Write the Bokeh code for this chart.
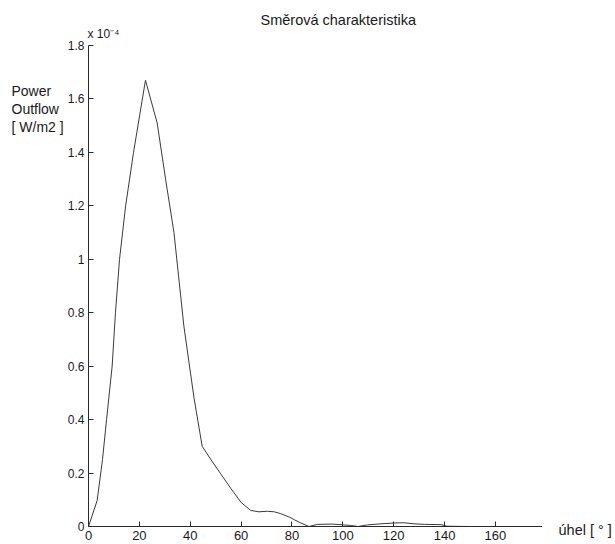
from bokeh.plotting import figure
from bokeh.models import Range1d, FixedTicker, Title
from bokeh.layouts import row
from bokeh.core.properties import value
from bokeh.embed import file_html
from bokeh.resources import INLINE

# angle [deg] and power outflow [x 1e-4 W/m2]
angle = [0, 3.4, 5.5, 7.1, 9.3, 10.6, 12.2, 14.6, 17.7, 22.4, 27.0, 30.3, 33.6,
         37.5, 41.5, 44.7, 48.5, 52, 56, 60, 63.8, 67, 70.3, 73, 75.6, 79, 81,
         83.5, 86.7, 90, 96, 103, 106, 109.7, 115, 120, 124, 128, 132, 138.6,
         141, 150, 160, 167]
power = [0, 0.097, 0.25, 0.40, 0.60, 0.80, 1.00, 1.20, 1.40, 1.67, 1.51, 1.30, 1.10,
         0.75, 0.48, 0.30, 0.245, 0.197, 0.142, 0.09, 0.06, 0.055, 0.057, 0.055, 0.048,
         0.035, 0.025, 0.013, 0.0, 0.008, 0.009, 0.004, 0.0, 0.006, 0.010, 0.013, 0.014,
         0.010, 0.008, 0.007, 0.001, 0.0, 0.0, 0.0]
x_ticks = [0, 20, 40, 60, 80, 100, 120, 140, 160]
y_ticks = [0, 0.2, 0.4, 0.6, 0.8, 1.0, 1.2, 1.4, 1.6, 1.8]
y_tick_labels = ["0", "0.2", "0.4", "0.6", "0.8", "1", "1.2", "1.4", "1.6", "1.8"]
y_label_lines = ["Power", "Outflow", "[ W/m2 ]"]
title_text = "Směrová charakteristika"
scale_text = "x 10⁻⁴"
x_label = "úhel [ ° ]"

FONT = "Liberation Sans"
COL = "#2a2a2a"
TXT = "#1a1a1a"
H = 544
LEFT_W = 64
RIGHT_W = 73
MAIN_W = 615 - LEFT_W - RIGHT_W
FRAME_TOP = 45
FRAME_BOTTOM = 526


def blank(width):
    # full-canvas frame, y in canvas pixels from the top
    f = figure(width=width, height=H, output_backend="svg", toolbar_location=None,
               x_range=Range1d(0, width), y_range=Range1d(H, 0),
               x_axis_location=None, y_axis_location=None, frame_align=False,
               min_border=0, min_border_left=0, min_border_right=0,
               min_border_top=0, min_border_bottom=0)
    f.outline_line_color = None
    f.grid.visible = False
    return f


# left strip: horizontal y-axis label
left = blank(LEFT_W)
left.text(x=[11, 11, 11], y=[90, 108, 126], text=y_label_lines,
          text_font=value(FONT), text_font_size=value("14px"),
          text_color=TXT, text_baseline="middle", text_align="left")

# right strip: x-axis label
right = blank(RIGHT_W)
right.text(x=[16], y=[529], text=[x_label],
           text_font=value(FONT), text_font_size=value("14.5px"),
           text_color=TXT, text_baseline="middle", text_align="left")

# main plot
p = figure(width=MAIN_W, height=H, output_backend="svg", toolbar_location=None,
           x_range=Range1d(0, 178.5), y_range=Range1d(0, 1.8),
           min_border_left=88 - LEFT_W, min_border_right=0,
           min_border_top=FRAME_TOP, min_border_bottom=H - FRAME_BOTTOM)
p.outline_line_color = None
p.grid.visible = False

p.line(angle, power, line_color="#3a3a3a", line_width=1)

for ax in (p.xaxis[0], p.yaxis[0]):
    ax.axis_line_color = COL
    ax.major_tick_line_color = COL
    ax.minor_tick_line_color = None
    ax.major_tick_in = 5
    ax.major_tick_out = 0
    ax.major_label_text_font = FONT
    ax.major_label_text_color = TXT
    ax.major_label_standoff = 4
p.xaxis[0].major_label_text_font_size = "13px"
p.yaxis[0].major_label_text_font_size = "12px"

p.xaxis[0].ticker = FixedTicker(ticks=x_ticks)
p.yaxis[0].ticker = FixedTicker(ticks=y_ticks)
p.yaxis[0].major_label_overrides = {t: l for t, l in zip(y_ticks, y_tick_labels)}

# titles above: nearest first
p.add_layout(Title(text=scale_text, align="left", offset=-1, standoff=10,
                   text_font=FONT, text_font_size="12px", text_font_style="normal",
                   text_color=TXT), "above")
p.add_layout(Title(text=title_text, align="left", offset=172, standoff=-16,
                   text_font=FONT, text_font_size="14.5px", text_font_style="normal",
                   text_color=TXT), "above")

layout = row(left, p, right, spacing=0)
open("out.html", "w").write(file_html(layout, INLINE))
